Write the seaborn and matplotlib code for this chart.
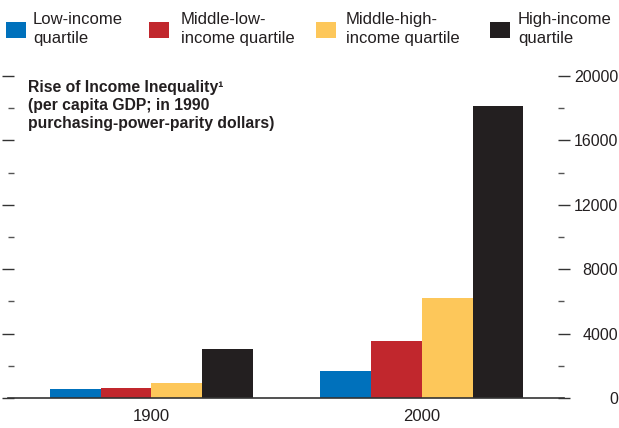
import matplotlib
matplotlib.use("Agg")
import matplotlib.pyplot as plt
import seaborn as sns
import pandas as pd
from matplotlib.patches import Rectangle
from matplotlib.ticker import MultipleLocator

years = ["1900", "2000"]
groups = ["Low-income\nquartile", "Middle-low-\nincome quartile",
          "Middle-high-\nincome quartile", "High-income\nquartile"]
colors = ["#0071bc", "#c1272d", "#fdc75a", "#231f20"]
values = {
    groups[0]: [560, 1680],
    groups[1]: [620, 3540],
    groups[2]: [930, 6210],
    groups[3]: [3040, 18140],
}
yticks = [0, 4000, 8000, 12000, 16000, 20000]
ytick_labels = ["0", "4000", "8000", "12000", "16000", "20000"]
title = "Rise of Income Inequality\u00b9\n(per capita GDP; in 1990\npurchasing-power-parity dollars)"

rows = []
for g in groups:
    for y, v in zip(years, values[g]):
        rows.append({"year": y, "group": g, "value": v})
df = pd.DataFrame(rows)

sns.set_style("white")
plt.rcParams["font.family"] = ["Liberation Sans", "DejaVu Sans"]
txt = "#231f20"

fig = plt.figure(figsize=(6.19, 4.28), dpi=100)
ax = fig.add_axes([8/619, 1-398/428, (564-8)/619, 322/428])
sns.barplot(data=df, x="year", y="value", hue="group", hue_order=groups,
            palette=colors, width=0.75, saturation=1, legend=False, ax=ax,
            edgecolor="none", linewidth=0)
ax.set_xlim(-0.530, 1.525)
ax.set_ylim(0, 20000)
for s in ["top", "left", "right"]:
    ax.spines[s].set_visible(False)
ax.spines["bottom"].set_color("#333333")
ax.spines["bottom"].set_linewidth(1.2)
ax.set_xlabel("")
ax.set_ylabel("")
ax.tick_params(axis="x", length=0, labelsize=12, colors=txt, pad=8)
ax.yaxis.set_minor_locator(MultipleLocator(2000))
ax.set_yticks(yticks)
ax.set_yticklabels(ytick_labels, ha="right")
ax.tick_params(axis="y", which="major", left=True, right=True, labelleft=False,
               labelright=True, direction="inout", length=8, width=1.0,
               color="#333333", labelsize=11.5, labelcolor=txt, pad=35)
ax.tick_params(axis="y", which="minor", left=True, right=True, direction="in",
               length=4, width=1.0, color="#555555")
ax.text(20/556, (398-80)/322, title, transform=ax.transAxes, ha="left", va="top",
        fontsize=11.3, fontweight="bold", color=txt, linespacing=1.25)

# legend
lx = [6, 149, 316, 490]
tx = [33, 181, 346, 518]
for g, c, x0, x1 in zip(groups, colors, lx, tx):
    fig.patches.append(Rectangle((x0/619, 1-38/428), 20/619, 16/428,
                                 transform=fig.transFigure, facecolor=c,
                                 edgecolor="none"))
    fig.text(x1/619, 1-29/428, g, ha="left", va="center", fontsize=12,
             color=txt, linespacing=1.35)

fig.savefig("out.png", dpi=100)
